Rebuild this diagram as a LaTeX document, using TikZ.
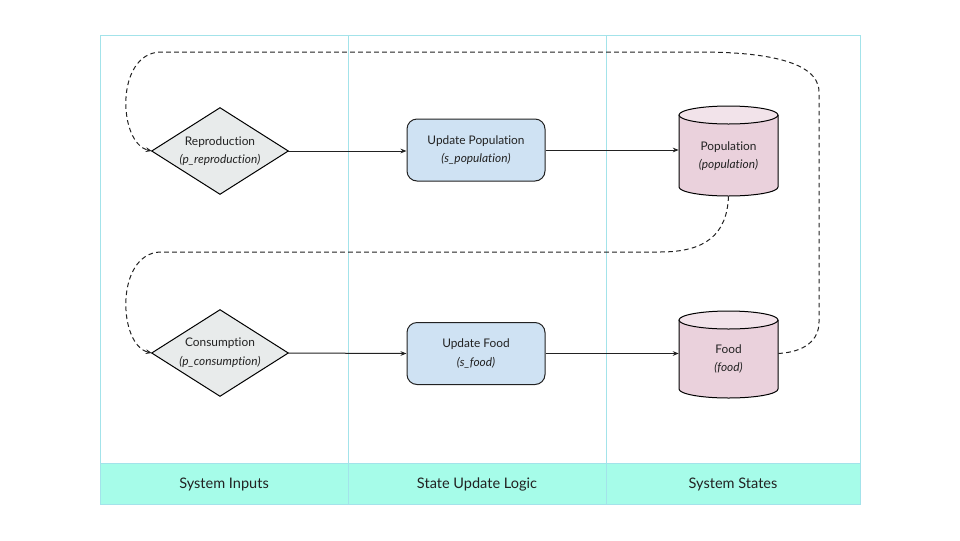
\documentclass[tikz,border=0pt]{standalone}
\usepackage{fontspec}
\setmainfont{Lato}[Ligatures=CommonOff]
\usetikzlibrary{arrows.meta}
\definecolor{lane}{HTML}{A3E3EA}
\definecolor{head}{HTML}{A6FCE9}
\definecolor{dfill}{HTML}{E8EBEB}
\definecolor{bfill}{HTML}{CFE2F3}
\definecolor{cfill}{HTML}{EAD1DC}
\definecolor{ctop}{HTML}{F2E3EA}
\definecolor{stroke}{HTML}{222222}
\begin{document}
\begin{tikzpicture}[x=0.75pt,y=-0.75pt,
  txt/.style={font=\fontsize{8.9pt}{10.5pt}\selectfont,align=center,text=stroke},
  dia/.style={shape=rectangle,minimum width=136*0.75pt,minimum height=86*0.75pt,inner sep=0pt},
  ubox/.style={txt,draw=stroke,fill=bfill,rounded corners=7.5pt,minimum width=138*0.75pt,minimum height=62*0.75pt,inner sep=0pt,line width=0.75pt},
  cyl/.style={shape=rectangle,minimum width=99*0.75pt,inner sep=0pt},
  flow/.style={draw=stroke,line width=0.75pt,-{Stealth[length=4.5pt,width=3.5pt]}},
  fb/.style={flow,dashed,dash pattern=on 3.5pt off 2.5pt},
  hdr/.style={font=\fontsize{10.9pt}{12pt}\selectfont,text=stroke}]
\useasboundingbox (0,0) rectangle (960,540);
% lanes
\fill[head] (100,463) rectangle (860,504);
\draw[lane,line width=0.75pt] (100,35) rectangle (860,504);
\draw[lane,line width=0.75pt] (348,35) -- (348,504) (606,35) -- (606,504) (100,463) -- (860,463);
\node[hdr] (h1) at (224,484) {System Inputs};
\node[hdr] (h2) at (477,484) {State Update Logic};
\node[hdr] (h3) at (733,484) {System States};
% diamonds
\node[dia] (rep) at (220,151) {};
\node[dia] (con) at (220,353) {};
\foreach \n in {rep,con}{
  \draw[stroke,fill=dfill,line width=0.75pt] (\n.north) -- (\n.east) -- (\n.south) -- (\n.west) -- cycle;
}
\node[txt] (rept) at (rep) {Reproduction\\[3.5pt]\textit{(p\_reproduction)}};
\node[txt] (cont) at (con) {Consumption\\[3.5pt]\textit{(p\_consumption)}};
% update boxes
\node[ubox] (upop) at (476,150) {Update Population\\[3.5pt]\textit{(s\_population)}};
\node[ubox] (ufood) at (476,353.5) {Update Food\\[3.5pt]\textit{(s\_food)}};
% cylinders
\fill[cfill] (679,115) -- (679,187) arc[start angle=180,end angle=360,x radius=49.5,y radius=-9] -- (778,115) -- cycle;
\draw[stroke,line width=0.75pt] (679,115) -- (679,187) arc[start angle=180,end angle=360,x radius=49.5,y radius=-9] -- (778,115);
\draw[stroke,fill=ctop,line width=0.75pt] (728.5,115) ellipse[x radius=49.5,y radius=9];
\node[cyl,minimum height=90*0.75pt] (pop) at (728.5,151) {};
\node[txt] (popt) at (728.5,156) {Population\\[3.5pt]\textit{(population)}};
\fill[cfill] (679,320) -- (679,389) arc[start angle=180,end angle=360,x radius=49.5,y radius=-9] -- (778,320) -- cycle;
\draw[stroke,line width=0.75pt] (679,320) -- (679,389) arc[start angle=180,end angle=360,x radius=49.5,y radius=-9] -- (778,320);
\draw[stroke,fill=ctop,line width=0.75pt] (728.5,320) ellipse[x radius=49.5,y radius=9];
\node[cyl,minimum height=87*0.75pt] (food) at (728.5,354) {};
\node[txt] (foodt) at (728.5,359) {Food\\[3.5pt]\textit{(food)}};
% flows
\draw[flow] (rep.east) -- (upop.west |- rep.east);
\draw[flow] (upop.east) -- (pop.west |- upop.east);
\draw[flow] (con.east) -- (ufood.west);
\draw[flow] (ufood.east) -- (food.west |- ufood.east);
% feedback dashed
\coordinate (a1) at (660,252);
\coordinate (a2) at (160,252);
\draw[fb] (pop.south) .. controls (727,235) and (705,252) .. (a1) -- (a2)
  .. controls (115,254) and (118,345) .. (con.west);
\coordinate (b1) at (819,322);
\coordinate (b2) at (819,92);
\coordinate (b3) at (700,52);
\coordinate (b4) at (160,52);
\draw[fb] (food.east |- ufood.east) .. controls (805,352) and (819,340) .. (b1) -- (b2)
  .. controls (819,60) and (760,52) .. (b3) -- (b4)
  .. controls (115,54) and (118,143) .. (rep.west);
\end{tikzpicture}
\end{document}
